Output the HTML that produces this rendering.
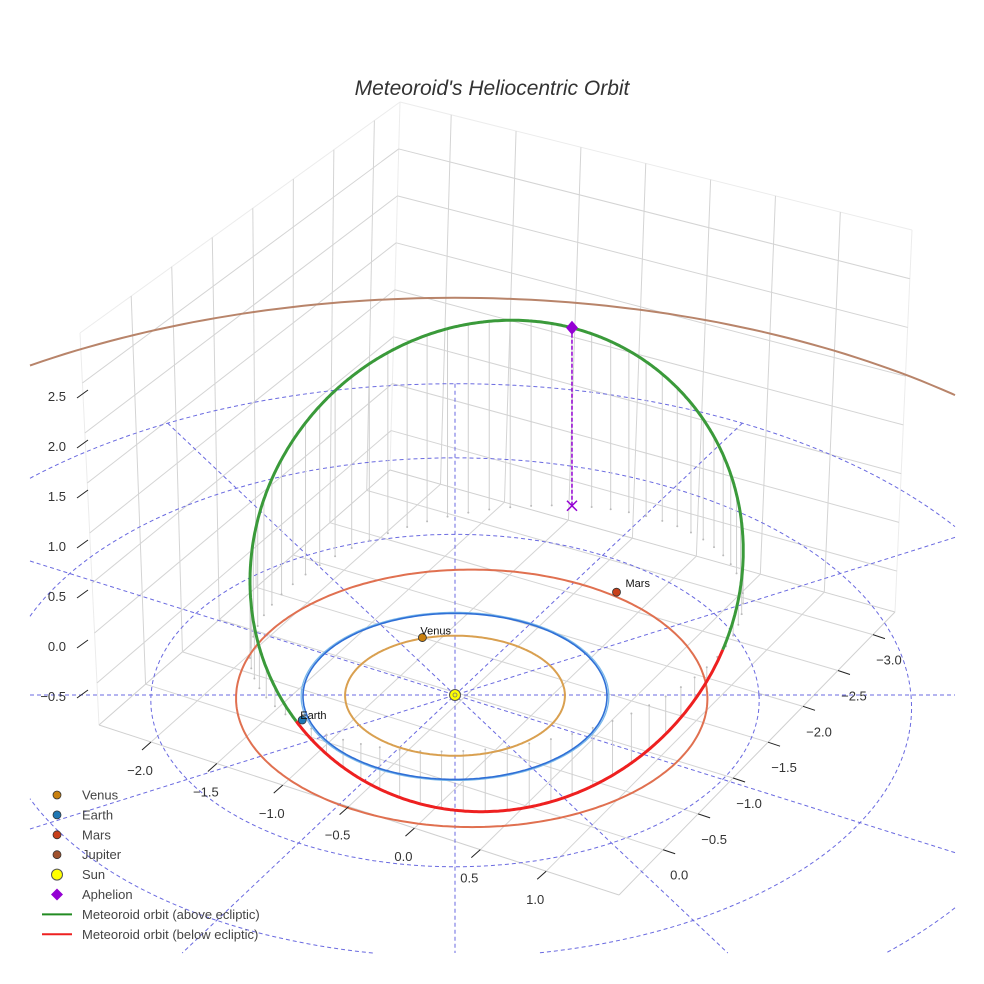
<!DOCTYPE html>
<html><head><meta charset="utf-8"><style>
html,body{margin:0;padding:0;background:#fff;overflow:hidden;width:984px;height:984px;}
svg{display:block;font-family:"Liberation Sans",sans-serif;}
</style></head><body>
<svg id="chart" width="984" height="984" viewBox="0 0 984 984" xmlns="http://www.w3.org/2000/svg">
<text x="492" y="95" text-anchor="middle" font-size="21" font-style="italic" fill="#333">Meteoroid's Heliocentric Orbit</text>
<g id="box"></g>
<g id="ecl"></g>
<g id="drops"></g>
<g id="orbits"></g>
<g id="met"></g>
<g id="marks"></g>
<g id="ticks"></g>
<g id="legend"></g>
</svg>
<script>
// ---- data ----
const planetNames = ["Venus","Earth","Mars","Jupiter"];
const planetColors = ["#c9800f","#1f77b4","#c8401a","#a0522d"];
const orbitColors = ["#d9a050","#2f6fd6","#e07050","#b8846a"];
const orbitRadius = [0.723,1.0,1.55,5.2];
const orbitCenterU = [0,0,0.11,0];
const planetU = [-0.217,-1.0,1.085,null];
const planetV = [-0.70,0.30,-1.265,null];
const aphelionPos = [0.80,-2.37,1.85];
const eccentricity = [0.56];
const nodeDirection = [-0.958,0.287,0];
const refRadii = [1,2,3,4];
const refAngles = [0,30,60,90,120,150];
const xTicks = [-2.0,-1.5,-1.0,-0.5,0.0,0.5,1.0];
const yTicks = [0.0,-0.5,-1.0,-1.5,-2.0,-2.5,-3.0];
const zTicks = [2.5,2.0,1.5,1.0,0.5,0.0,-0.5];
const legendLabels = ["Venus","Earth","Mars","Jupiter","Sun","Aphelion","Meteoroid orbit (above ecliptic)","Meteoroid orbit (below ecliptic)"];

// ---- projection ----
const CX=455, CY=695, SU=152, SV=83, SZ=100, D=60;
const X0=30,X1=955,Y0=30,Y1=953;
function P(u,v,z){ const g=D/(D-v); return [CX+SU*u*g, CY+(SV*v-SZ*z)*g]; }
const NS="http://www.w3.org/2000/svg";
function mk(tag,attrs,parent){const e=document.createElementNS(NS,tag);for(const k in attrs)e.setAttribute(k,attrs[k]);parent.appendChild(e);return e;}
function pts(a){return a.map(p=>p[0].toFixed(1)+","+p[1].toFixed(1)).join(" ");}
const L=(a,b,t)=>[a[0]+(b[0]-a[0])*t,a[1]+(b[1]-a[1])*t];
const inside=p=>p[0]>=X0&&p[0]<=X1&&p[1]>=Y0&&p[1]<=Y1;
// Liang-Barsky segment clip
function clipSeg(a,b){let t0=0,t1=1;const dx=b[0]-a[0],dy=b[1]-a[1];
 const pq=[[-dx,a[0]-X0],[dx,X1-a[0]],[-dy,a[1]-Y0],[dy,Y1-a[1]]];
 for(const [p,q] of pq){if(p===0){if(q<0)return null;}else{const r=q/p;if(p<0){if(r>t1)return null;if(r>t0)t0=r;}else{if(r<t0)return null;if(r<t1)t1=r;}}}
 return [L(a,b,t0),L(a,b,t1)];}
// split polyline into clipped runs
function clipPoly(arr){const runs=[];let cur=[];
 for(let i=1;i<arr.length;i++){const s=clipSeg(arr[i-1],arr[i]);
  if(!s){if(cur.length>1)runs.push(cur);cur=[];continue;}
  if(cur.length===0)cur.push(s[0]);cur.push(s[1]);
  if(!inside(arr[i])){runs.push(cur);cur=[];}}
 if(cur.length>1)runs.push(cur);return runs;}

// ---- box ----
const box=document.getElementById('box');
const T=[400,102],Lc=[80,333],R=[912,230],B=[390,470],BL=[99,725],BR=[895,612],F=[619,895];
const zmin=-0.92,zmax=3.0;
const xt0=0.10,xt1=0.86, yt0=0.16,yt1=0.92;
function xT(x){return xt0+(x-xTicks[0])/(xTicks[xTicks.length-1]-xTicks[0])*(xt1-xt0);}
function yT(y){return yt0+(y-yTicks[0])/(yTicks[yTicks.length-1]-yTicks[0])*(yt1-yt0);}
function zT(z){return (zmax-z)/(zmax-zmin);}
function gl(a,b,c,w){const e=mk('line',{x1:a[0],y1:a[1],x2:b[0],y2:b[1],stroke:c||'#d4d4d4','stroke-width':w||1},box);

}
[[Lc,T],[T,R],[Lc,BL],[R,BR],[T,B]].forEach(e=>gl(e[0],e[1],'#ececec'));
[[BL,F],[F,BR],[BL,B],[B,BR]].forEach(e=>gl(e[0],e[1],'#d0d0d0'));
zTicks.forEach(z=>{const t=zT(z);gl(L(Lc,BL,t),L(T,B,t));gl(L(T,B,t),L(R,BR,t));});
yTicks.forEach(y=>{const t=yT(y);const fb=L(BL,B,t);gl(L(Lc,T,t),fb);gl(L(F,BR,t),fb);});
xTicks.forEach(x=>{const t=xT(x);const fb=L(B,BR,t);gl(L(T,R,t),fb);gl(L(BL,F,t),fb);});

// ---- ticks ----
const tk=document.getElementById('ticks');
function tx(x,y,s,anchor,name){const e=mk('text',{x:x,y:y,'font-size':13,fill:'#333','text-anchor':anchor},tk);e.textContent=s;

}
function tl(a,b){mk('line',{x1:a[0],y1:a[1],x2:b[0],y2:b[1],stroke:'#222','stroke-width':1},tk);}
const fmt=v=>(v<0?"\u2212":"")+Math.abs(v).toFixed(1);
zTicks.forEach(z=>{const ty=Lc[1]+(BL[1]-Lc[1])*zT(z);tl([88,ty+7],[77,ty+15]);tx(66,ty+18,fmt(z),'end','z-tick-label');});
xTicks.forEach(x=>{const e=L(BL,F,xT(x));tl(e,[e[0]-9,e[1]+8]);tx(e[0]-11,e[1]+33,fmt(x),'middle','x-tick-label');});
yTicks.forEach(y=>{const e=L(F,BR,yT(y));tl(e,[e[0]+12,e[1]+4]);tx(e[0]+16,e[1]+30,fmt(y),'middle','y-tick-label');});

// ---- ecliptic reference ----
const ecl=document.getElementById('ecl');
function circ(r,cu,n){const a=[];for(let i=0;i<=n;i++){const th=i/n*2*Math.PI;a.push(P(cu+r*Math.cos(th),r*Math.sin(th),0));}return a;}
refRadii.forEach(r=>{clipPoly(circ(r,0,240)).forEach(run=>{
 const e=mk('polyline',{points:pts(run),fill:'none',stroke:'#6a6ae0','stroke-width':1,'stroke-dasharray':'4,3'},ecl);
 
 });});
const rMax=refRadii[refRadii.length-1];
refAngles.forEach(a=>{const th=a*Math.PI/180;const c=Math.cos(th),s=Math.sin(th);
 const s2=clipSeg(P(-rMax*c,-rMax*s,0),P(rMax*c,rMax*s,0)); if(!s2)return;
 const e=mk('line',{x1:s2[0][0],y1:s2[0][1],x2:s2[1][0],y2:s2[1][1],stroke:'#6a6ae0','stroke-width':1,'stroke-dasharray':'4,3'},ecl);
 
 });

// ---- planet orbits ----
const orb=document.getElementById('orbits');
orbitRadius.forEach((r,i)=>{
 if(i===1){mk('polyline',{points:pts(circ(r*1.012,orbitCenterU[i],240)),fill:'none',stroke:'#7ab8ea','stroke-width':1.3},orb);}
 clipPoly(circ(r,orbitCenterU[i],360)).forEach(run=>{
 const e=mk('polyline',{points:pts(run),fill:'none',stroke:orbitColors[i],'stroke-width':i===1?1.6:2},orb);
 
 });});

// ---- meteoroid orbit ----
const A=aphelionPos, ecc=eccentricity[0];
const Q=Math.hypot(A[0],A[1],A[2]); const a=Q/(1+ecc), b=a*Math.sqrt(1-ecc*ecc);
const Uh=A.map(v=>v/Q); const nd=nodeDirection; const dp=nd[0]*Uh[0]+nd[1]*Uh[1]+nd[2]*Uh[2];
let Wv=nd.map((v,k)=>v-dp*Uh[k]); const wn=Math.hypot(...Wv); Wv=Wv.map(v=>v/wn);
function pos(t){const c=a*(ecc+Math.cos(t)),s=b*Math.sin(t);return [c*Uh[0]+s*Wv[0],c*Uh[1]+s*Wv[1],c*Uh[2]+s*Wv[2]];}
const drops=document.getElementById('drops');
for(let k=0;k<72;k++){const t=k/72*2*Math.PI;const p=pos(t);const top=P(p[0],p[1],p[2]),bot=P(p[0],p[1],0);
 const e=mk('line',{x1:top[0],y1:top[1],x2:bot[0],y2:bot[1],stroke:'#cfcfcf','stroke-width':1},drops);
 
 
 mk('circle',{cx:bot[0],cy:bot[1],r:1,fill:'#bbb'},drops);}
const met=document.getElementById('met');
let seg=[],above=null;
function flush(){if(seg.length>1){const e=mk('polyline',{points:pts(seg),fill:'none',stroke:above?'#3a9a3a':'#ee2020','stroke-width':3,'stroke-linejoin':'round'},met);
 
 }}
for(let i=0;i<=720;i++){const t=i/720*2*Math.PI;const p=pos(t);const ab=p[2]>=0;const sp=P(p[0],p[1],p[2]);
 if(above===null)above=ab;
 if(ab!==above){seg.push(sp);flush();seg=[sp];above=ab;}else seg.push(sp);}
flush();

// ---- markers ----
const mkg=document.getElementById('marks');
const apT=P(A[0],A[1],A[2]),apB=P(A[0],A[1],0);
mk('line',{x1:apT[0],y1:apT[1],x2:apB[0],y2:apB[1],stroke:'#9400d3','stroke-width':1.5,'stroke-dasharray':'4,2'},mkg);
const xm=mk('path',{d:`M${apB[0]-5},${apB[1]-5}L${apB[0]+5},${apB[1]+5}M${apB[0]-5},${apB[1]+5}L${apB[0]+5},${apB[1]-5}`,stroke:'#9400d3','stroke-width':1.5},mkg);


const dm=mk('path',{d:`M${apT[0]},${apT[1]-7}L${apT[0]+6},${apT[1]}L${apT[0]},${apT[1]+7}L${apT[0]-6},${apT[1]}Z`,fill:'#9400d3'},mkg);


const sun=P(0,0,0);
const sc=mk('circle',{cx:sun[0],cy:sun[1],r:5.5,fill:'#ffff00',stroke:'#555','stroke-width':1},mkg);


mk('circle',{cx:sun[0],cy:sun[1],r:2,fill:'none',stroke:'#777','stroke-width':0.8},mkg);
planetNames.forEach((n,i)=>{if(planetU[i]===null)return;const p=P(planetU[i],planetV[i],0);
 const c=mk('circle',{cx:p[0],cy:p[1],r:4,fill:planetColors[i],stroke:'#333','stroke-width':0.8},mkg);
 
 
 const t=mk('text',{x:p[0]+(i===2?9:-2),y:p[1]-(i===2?5:3)+(i===1?2:0),'font-size':11,fill:'#111'},mkg);t.textContent=n;
 
 });

// ---- legend ----
const lg=document.getElementById('legend');
legendLabels.forEach((s,i)=>{const y=795+i*19.9;
 const g=mk('g',{},lg);
 
 
 if(i<4)mk('circle',{cx:57,cy:y,r:4,fill:planetColors[i],stroke:'#333','stroke-width':0.8},g);
 else if(i===4)mk('circle',{cx:57,cy:y,r:5.5,fill:'#ffff00',stroke:'#555','stroke-width':1},g);
 else if(i===5)mk('path',{d:`M57,${y-6}L63,${y}L57,${y+6}L51,${y}Z`,fill:'#9400d3'},g);
 else mk('line',{x1:42,y1:y,x2:72,y2:y,stroke:i===6?'#228b22':'#ee2020','stroke-width':2},g);
 const t=mk('text',{x:82,y:y+4.5,'font-size':13,fill:'#444'},g);t.textContent=s;});
</script>
</body></html>
